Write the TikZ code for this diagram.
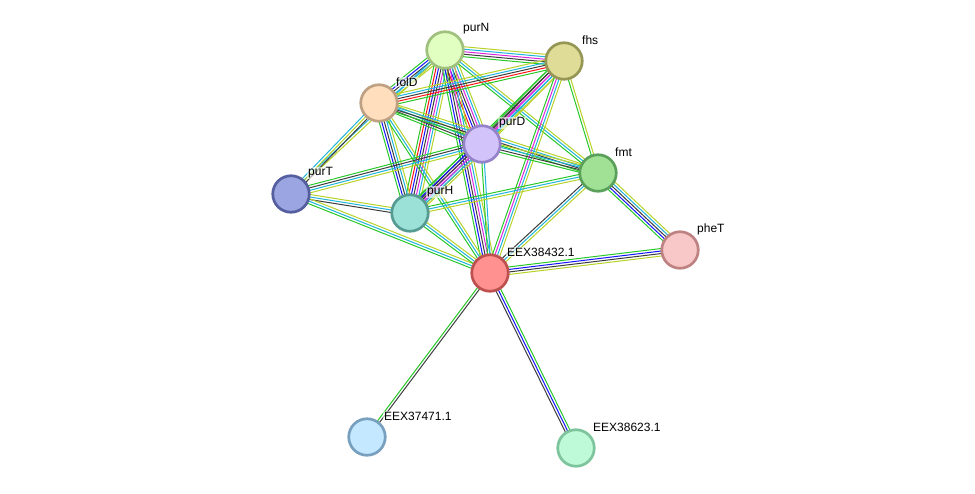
\documentclass[tikz,border=0pt]{standalone}
\usepackage{fontspec}
\setmainfont{Liberation Sans}
\usetikzlibrary{calc,backgrounds}
\definecolor{sg}{RGB}{40,200,40}
\definecolor{sr}{RGB}{255,20,20}
\definecolor{sb}{RGB}{20,20,255}
\definecolor{sk}{RGB}{60,60,60}
\definecolor{sm}{RGB}{220,40,220}
\definecolor{sc}{RGB}{30,180,220}
\definecolor{sy}{RGB}{185,210,40}
\definecolor{fpurN}{RGB}{224,255,192}\definecolor{dpurN}{RGB}{160,192,125}
\definecolor{ffhs}{RGB}{222,220,150}\definecolor{dfhs}{RGB}{150,150,85}
\definecolor{ffolD}{RGB}{255,222,190}\definecolor{dfolD}{RGB}{190,160,130}
\definecolor{fpurD}{RGB}{210,195,250}\definecolor{dpurD}{RGB}{150,130,200}
\definecolor{ffmt}{RGB}{160,225,150}\definecolor{dfmt}{RGB}{90,160,90}
\definecolor{fpurT}{RGB}{155,165,225}\definecolor{dpurT}{RGB}{85,95,160}
\definecolor{fpurH}{RGB}{155,225,215}\definecolor{dpurH}{RGB}{85,155,145}
\definecolor{fpheT}{RGB}{248,200,200}\definecolor{dpheT}{RGB}{190,130,130}
\definecolor{fe432}{RGB}{255,145,145}\definecolor{de432}{RGB}{190,80,80}
\definecolor{fe471}{RGB}{195,232,255}\definecolor{de471}{RGB}{120,160,190}
\definecolor{fe623}{RGB}{190,250,215}\definecolor{de623}{RGB}{125,195,155}
\newcommand\stredge[3]{%
  \foreach \c [count=\i] in {#3} {\xdef\strn{\i}}%
  \foreach \c [count=\i] in {#3} {%
    \pgfmathsetmacro\off{(\i-(\strn+1)/2)*2.5}%
    \draw[color=\c, line width=1pt] ($(#1)!\off pt!90:(#2)$) -- ($(#2)!\off pt!-90:(#1)$);
  }%
}
\tikzset{
  prot/.style={circle, minimum size=36.5pt, inner sep=0pt, line width=2.7pt, fill=f#1, draw=d#1},
  lbl/.style={anchor=west, font=\fontsize{12}{14}\selectfont, inner sep=1pt, fill=white, fill opacity=0.6, text opacity=1}
}
\begin{document}
\begin{tikzpicture}[x=1pt,y=-1pt]
\useasboundingbox (0,0) rectangle (975,494);
\node[prot=purN] (purN) at (445,50) {};
\node[prot=fhs] (fhs) at (564,61) {};
\node[prot=folD] (folD) at (379,103) {};
\node[prot=purD] (purD) at (482,144) {};
\node[prot=fmt] (fmt) at (598,173) {};
\node[prot=purT] (purT) at (291,194) {};
\node[prot=purH] (purH) at (410,213) {};
\node[prot=pheT] (pheT) at (680,250) {};
\node[prot=e432] (e432) at (490,273) {};
\node[prot=e471] (e471) at (367,437) {};
\node[prot=e623] (e623) at (576,448) {};
\begin{scope}[on background layer]
\fill[white] (0,0) rectangle (975,494);
\stredge{purN.center}{fhs.center}{sg,sk,sm,sc,sy}
\stredge{purN.center}{folD.center}{sg,sb,sk,sc,sy}
\stredge{purN.center}{purD.center}{sg,sr,sb,sk,sm,sc,sy}
\stredge{purN.center}{purH.center}{sg,sr,sb,sk,sm,sc,sy}
\stredge{purN.center}{fmt.center}{sg,sc,sy}
\stredge{purN.center}{e432.center}{sg,sb,sk,sm,sc,sy}
\stredge{purN.center}{purT.center}{sc,sy}
\stredge{folD.center}{purT.center}{sc,sy,sk}
\stredge{folD.center}{fhs.center}{sg,sr,sk,sc,sy}
\stredge{folD.center}{purD.center}{sg,sk,sc,sy}
\stredge{folD.center}{purH.center}{sg,sb,sk,sc,sy}
\stredge{folD.center}{fmt.center}{sg,sk,sc,sy}
\stredge{folD.center}{e432.center}{sg,sc,sy}
\stredge{fhs.center}{purD.center}{sg,sk,sm,sc,sy}
\stredge{fhs.center}{purH.center}{sg,sk,sm,sc,sy}
\stredge{fhs.center}{fmt.center}{sg,sy}
\stredge{fhs.center}{e432.center}{sg,sm,sc,sy}
\stredge{purD.center}{fmt.center}{sg,sk,sc,sy}
\stredge{purD.center}{purH.center}{sg,sb,sk,sm,sc,sy}
\stredge{purD.center}{purT.center}{sg,sk,sc,sy}
\stredge{purD.center}{e432.center}{sg,sc}
\stredge{fmt.center}{purH.center}{sg,sc,sy}
\stredge{fmt.center}{e432.center}{sk,sc,sy}
\stredge{fmt.center}{pheT.center}{sg,sb,sk,sc,sy}
\stredge{purT.center}{purH.center}{sk,sc,sy}
\stredge{purT.center}{e432.center}{sg,sc,sy}
\stredge{purH.center}{e432.center}{sg,sc,sy}
\stredge{pheT.center}{e432.center}{sg,sb,sk,sy}
\stredge{e471.center}{e432.center}{sk,sg}
\stredge{e623.center}{e432.center}{sg,sb,sk}
\end{scope}
\node[lbl] (lpurN) at ($(purN)+(17,-21)$) {purN};
\node[lbl] (lfhs) at ($(fhs)+(17,-21)$) {fhs};
\node[lbl] (lfolD) at ($(folD)+(16,-21)$) {folD};
\node[lbl] (lpurD) at ($(purD)+(16,-21)$) {purD};
\node[lbl] (lfmt) at ($(fmt)+(16,-21)$) {fmt};
\node[lbl] (lpurT) at ($(purT)+(16,-21)$) {purT};
\node[lbl] (lpurH) at ($(purH)+(16,-21)$) {purH};
\node[lbl] (lpheT) at ($(pheT)+(16,-21)$) {pheT};
\node[lbl] (le432) at ($(e432)+(16,-21)$) {EEX38432.1};
\node[lbl] (le471) at ($(e471)+(16,-21)$) {EEX37471.1};
\node[lbl] (le623) at ($(e623)+(16,-21)$) {EEX38623.1};
\end{tikzpicture}
\end{document}
